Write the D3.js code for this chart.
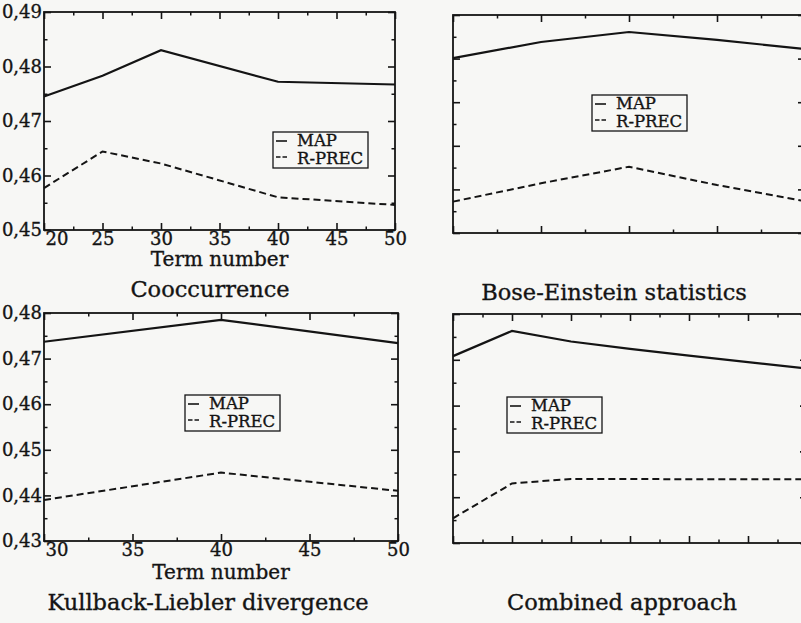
<!DOCTYPE html>
<html lang="en">
<head>
<meta charset="UTF-8">
<script src="https://d3js.org/d3.v7.min.js"></script>
<title>Term number plots</title>
<style>
  body { margin: 0; background: #f7f7f5; }
  text { font-family: "DejaVu Serif", serif; fill: #141414; stroke: #141414; stroke-width: 0.35px; }
</style>
</head>
<body>
<svg width="801" height="623" id="mainsvg"></svg>
<script>
// Cooccurrence
const coocTerms = [20, 25, 30, 40, 50];
const coocMap   = [0.4745, 0.4783, 0.4830, 0.4772, 0.4767];
const coocRprec = [0.4577, 0.4644, 0.4622, 0.4560, 0.4546];
const coocXTicks = [20, 25, 30, 35, 40, 45, 50];
const coocYTicks = [0.45, 0.46, 0.47, 0.48, 0.49];

// Bose-Einstein statistics
const beTerms = [30, 35, 40, 45, 50];
const beMap   = [0.4801, 0.4838, 0.4861, 0.4843, 0.4822];
const beRprec = [0.4472, 0.4514, 0.4552, 0.4510, 0.4473];
const beXTicks = [30, 35, 40, 45, 50];
const beYTicks = [0.44, 0.45, 0.46, 0.47, 0.48, 0.49];

// Kullback-Liebler divergence
const klTerms = [30, 40, 50];
const klMap   = [0.4737, 0.4785, 0.4734];
const klRprec = [0.4390, 0.4450, 0.4410];
const klXTicks = [30, 35, 40, 45, 50];
const klYTicks = [0.43, 0.44, 0.45, 0.46, 0.47, 0.48];

// Combined approach
const combTerms = [20, 25, 30, 35, 40, 45, 50];
const combMap   = [0.4708, 0.4763, 0.4740, 0.4724, 0.4709, 0.4695, 0.4681];
const combRprec = [0.4354, 0.4430, 0.4440, 0.4440, 0.4439, 0.4439, 0.4439];
const combXTicks = [20, 25, 30, 35, 40, 45, 50];
const combYTicks = [0.43, 0.44, 0.45, 0.46, 0.47, 0.48];

const svg = d3.select('#mainsvg');
svg.append('rect').attr('width', 801).attr('height', 623).attr('fill', '#f7f7f5');

const ink = '#141414';
const fmt = d3.formatLocale({ decimal: ',', thousands: '.', grouping: [3], currency: ['', ''] }).format('.2f');
const mids = arr => arr.slice(1).map((v, i) => (v + arr[i]) / 2);

function drawPanel(p) {
    const x = d3.scaleLinear().domain(d3.extent(p.xTicks)).range([p.left, p.right]);
    const y = d3.scaleLinear().domain(d3.extent(p.yTicks)).range([p.bottom, p.top]);
    const g = svg.append('g');

    // ticks on all four sides, pointing inward
    const sides = [
        [d3.axisBottom(x), `translate(0,${p.bottom})`, 'x', p.labels],
        [d3.axisTop(x), `translate(0,${p.top})`, 'x', false],
        [d3.axisLeft(y), `translate(${p.left},0)`, 'y', p.labels],
        [d3.axisRight(y), `translate(${p.right},0)`, 'y', false]
    ];
    sides.forEach(([axis, tr, dim, showLabels]) => {
        const major = dim === 'x' ? p.xTicks : p.yTicks;
        const minor = mids(major);
        const a = g.append('g').attr('transform', tr)
            .call(axis.tickValues(major).tickSize(-7).tickPadding(2)
                .tickFormat(showLabels ? (dim === 'x' ? d3.format('d') : fmt) : ''));
        a.select('.domain').remove();
        a.selectAll('line').attr('stroke', ink).attr('stroke-width', 1.6);
        a.selectAll('text').attr('font-size', 18).attr('fill', ink)
            .attr('font-family', '"DejaVu Serif", serif');
        // first x label sits right of the corner, like the original
        if (dim === 'x' && showLabels) {
            a.selectAll('text').filter((d, i) => i === 0)
                .attr('text-anchor', 'start').attr('x', 1);
        }
        const m = g.append('g').attr('transform', tr)
            .call(axis.tickValues(minor).tickSize(-3.5).tickFormat(''));
        m.select('.domain').remove();
        m.selectAll('line').attr('stroke', ink).attr('stroke-width', 1.5);
    });

    g.append('rect')
        .attr('x', p.left).attr('y', p.top)
        .attr('width', p.right - p.left).attr('height', p.bottom - p.top)
        .attr('fill', 'none').attr('stroke', ink).attr('stroke-width', 1.8);

    const line = d3.line().x(d => x(d[0])).y(d => y(d[1]));
    g.append('path').datum(d3.zip(p.terms, p.map)).attr('d', line)
        .attr('fill', 'none').attr('stroke', ink).attr('stroke-width', 2.2);
    g.append('path').datum(d3.zip(p.terms, p.rprec)).attr('d', line)
        .attr('fill', 'none').attr('stroke', ink).attr('stroke-width', 2)
        .attr('stroke-dasharray', '7,4');

    if (p.labels) {
        g.append('text').text('Term number')
            .attr('x', (p.left + p.right) / 2).attr('y', p.bottom + p.axisTitleDy)
            .attr('text-anchor', 'middle').attr('font-size', 20);
    }
    g.append('text').text(p.title)
        .attr('x', p.titleX).attr('y', p.titleY)
        .attr('text-anchor', 'middle').attr('font-size', 22.5);

    // legend
    const lg = g.append('g').attr('transform', `translate(${p.legend[0]},${p.legend[1]})`);
    lg.append('rect').attr('width', 95).attr('height', 36)
        .attr('fill', 'none').attr('stroke', ink).attr('stroke-width', 1.3);
    lg.append('line').attr('x1', 3).attr('x2', 14).attr('y1', 9).attr('y2', 9)
        .attr('stroke', ink).attr('stroke-width', 1.6);
    lg.append('line').attr('x1', 3).attr('x2', 14).attr('y1', 25).attr('y2', 25)
        .attr('stroke', ink).attr('stroke-width', 1.6).attr('stroke-dasharray', '4.5,2');
    lg.append('text').text('MAP').attr('x', 24).attr('y', 14).attr('font-size', 16.5);
    lg.append('text').text('R-PREC').attr('x', 24).attr('y', 32).attr('font-size', 16.5);
}

drawPanel({ title: 'Cooccurrence', terms: coocTerms, map: coocMap, rprec: coocRprec,
    xTicks: coocXTicks, yTicks: coocYTicks, left: 44, right: 395, top: 12, bottom: 230,
    labels: true, axisTitleDy: 36, titleX: 210, titleY: 297, legend: [273, 132] });
drawPanel({ title: 'Bose-Einstein statistics', terms: beTerms, map: beMap, rprec: beRprec,
    xTicks: beXTicks, yTicks: beYTicks, left: 453, right: 805, top: 15, bottom: 233,
    labels: false, titleX: 614, titleY: 300, legend: [592, 95] });
drawPanel({ title: 'Kullback-Liebler divergence', terms: klTerms, map: klMap, rprec: klRprec,
    xTicks: klXTicks, yTicks: klYTicks, left: 44, right: 398, top: 313, bottom: 541,
    labels: true, axisTitleDy: 38, titleX: 208, titleY: 610, legend: [185, 395] });
drawPanel({ title: 'Combined approach', terms: combTerms, map: combMap, rprec: combRprec,
    xTicks: combXTicks, yTicks: combYTicks, left: 453, right: 807, top: 314, bottom: 543,
    labels: false, titleX: 622, titleY: 610, legend: [507, 397] });
</script>
</body>
</html>
